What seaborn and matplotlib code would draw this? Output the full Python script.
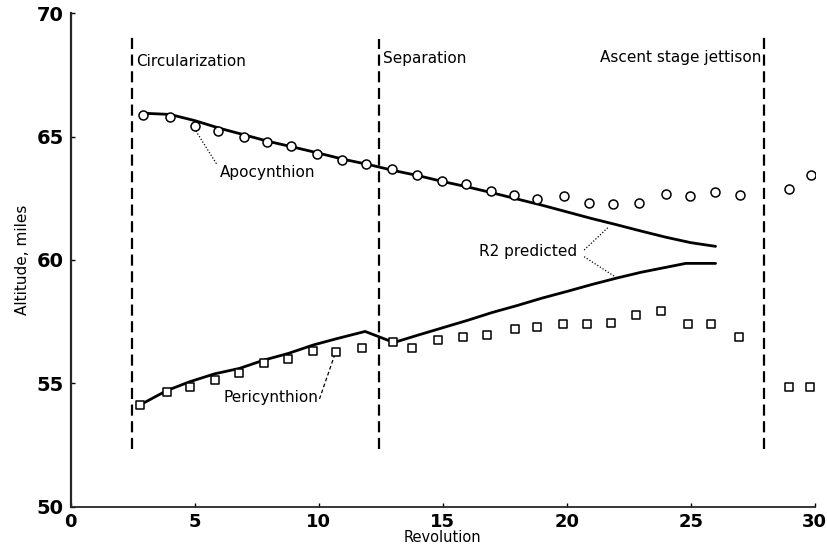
"""Lunar module orbit altitude versus revolution (apocynthion / pericynthion)."""

import numpy as np
import pandas as pd
import matplotlib
matplotlib.use("Agg")
import matplotlib.pyplot as plt
import seaborn as sns

# Observed apocynthion (circles)
apo_rev = [2.9, 4.0, 5.0, 5.95, 7.0, 7.9, 8.9, 9.95, 10.95, 11.9, 12.95, 13.95,
           14.98, 15.95, 16.94, 17.88, 18.8, 19.9, 20.9, 21.87, 22.9, 24.0,
           24.96, 25.98, 27.0, 28.97, 29.85]
apo_alt = [65.88, 65.8, 65.45, 65.23, 65.0, 64.77, 64.6, 64.3, 64.05, 63.88, 63.68, 63.45,
           63.22, 63.06, 62.8, 62.64, 62.48, 62.6, 62.3, 62.27, 62.3, 62.67,
           62.6, 62.77, 62.64, 62.87, 63.45]

# Observed pericynthion (squares)
peri_rev = [2.8, 3.87, 4.8, 5.8, 6.8, 7.8, 8.78, 9.78, 10.7, 11.75, 13.0, 13.77,
            14.8, 15.83, 16.8, 17.9, 18.82, 19.86, 20.83, 21.8, 22.78, 23.8,
            24.89, 25.83, 26.95, 28.97, 29.82]
peri_alt = [54.12, 54.63, 54.84, 55.13, 55.43, 55.83, 55.97, 56.32, 56.28, 56.42, 56.69, 56.44,
            56.75, 56.86, 56.96, 57.2, 57.29, 57.39, 57.39, 57.43, 57.77, 57.94,
            57.39, 57.39, 56.86, 54.84, 54.84]

# R2 predicted curves
pred_apo_rev = [2.9, 4, 5, 6, 7, 8, 9, 10, 11, 12, 13, 14, 15, 16, 17, 18, 19, 20,
                21, 22, 23, 24, 25, 26]
pred_apo_alt = [65.95, 65.9, 65.65, 65.34, 65.07, 64.8, 64.57, 64.33, 64.08, 63.87,
                63.63, 63.42, 63.18, 62.96, 62.72, 62.47, 62.22, 61.95, 61.68, 61.43,
                61.17, 60.92, 60.7, 60.55]
pred_peri_rev = [2.85, 3.87, 4.8, 5.8, 6.8, 7.8, 8.78, 9.78, 10.7, 11.87, 12.49, 13.03,
                 14, 15, 16, 17, 18, 19, 20, 21, 22, 23, 24, 24.8, 26]
pred_peri_alt = [54.15, 54.7, 55.06, 55.38, 55.6, 55.94, 56.21, 56.55, 56.8, 57.1, 56.86,
                 56.65, 56.95, 57.25, 57.55, 57.87, 58.15, 58.45, 58.72, 59.0, 59.26,
                 59.5, 59.7, 59.86, 59.86]

# Events (vertical dashed lines)
event_rev = [2.49, 12.45, 27.96]
event_top = [69.2, 68.95, 69.06]
event_labels = ["Circularization", "Separation", "Ascent stage jettison"]

x_ticks = [0, 5, 10, 15, 20, 25, 30]
y_ticks = [50, 55, 60, 65, 70]

sns.set_theme(style="ticks")
plt.rcParams["font.family"] = ["Liberation Sans Narrow", "DejaVu Sans"]
plt.rcParams.update({"text.color": "black", "axes.labelcolor": "black",
                     "xtick.color": "black", "ytick.color": "black"})

fig = plt.figure(figsize=(8.28, 5.46), dpi=100)
ax = fig.add_axes([0.0854, 0.0723, 0.8986, 0.9033])

pred = pd.concat([
    pd.DataFrame({"rev": pred_apo_rev, "alt": pred_apo_alt, "curve": "apo"}),
    pd.DataFrame({"rev": pred_peri_rev, "alt": pred_peri_alt, "curve": "peri"}),
])
sns.lineplot(data=pred, x="rev", y="alt", units="curve", estimator=None, sort=False,
             color="black", lw=2.0, ax=ax, legend=False)

sns.scatterplot(x=apo_rev, y=apo_alt, marker="o", s=42, facecolor="white",
                edgecolor="black", linewidth=1.1, ax=ax, zorder=3)
sns.scatterplot(x=peri_rev, y=peri_alt, marker="s", s=34, facecolor="white",
                edgecolor="black", linewidth=1.1, ax=ax, zorder=3)

for r, top in zip(event_rev, event_top):
    ax.plot([r, r], [52.35, top], color="black", lw=1.6, dashes=(5, 2.5))

ax.text(2.62, 68.05, event_labels[0], ha="left", va="center", fontsize=11)
ax.text(12.6, 68.18, event_labels[1], ha="left", va="center", fontsize=11)
ax.text(27.83, 68.2, event_labels[2], ha="right", va="center", fontsize=11)

# leader lines and curve labels
ax.plot([4.98, 5.9], [65.34, 63.86], color="black", lw=0.9, ls=(0, (1, 1.5)))
ax.text(6.03, 63.55, "Apocynthion", ha="left", va="center", fontsize=11)

ax.plot([10.03, 10.67], [54.36, 56.23], color="black", lw=0.9, ls=(0, (3, 2)))
ax.text(6.15, 54.41, "Pericynthion", ha="left", va="center", fontsize=11)

ax.plot([20.7, 21.7], [60.4, 61.35], color="black", lw=0.9, ls=(0, (1, 1.5)))
ax.plot([20.7, 22.04], [60.13, 59.26], color="black", lw=0.9, ls=(0, (1, 1.5)))
ax.text(16.45, 60.34, "R2 predicted", ha="left", va="center", fontsize=11)

ax.set_xlim(0, 30)
ax.set_ylim(50, 70)
ax.set_xticks(x_ticks)
ax.set_yticks(y_ticks)
ax.tick_params(axis="both", direction="in", length=3, width=1, pad=5)
ax.tick_params(axis="y", labelsize=14)
ax.tick_params(axis="x", labelsize=13)
for lab in ax.get_xticklabels() + ax.get_yticklabels():
    lab.set_fontweight("bold")
ax.set_xlabel("Revolution", fontsize=10.5, labelpad=-1)
ax.set_ylabel("Altitude, miles", fontsize=11, labelpad=5)
sns.despine(ax=ax)
ax.spines["left"].set_linewidth(1.6)
ax.spines["bottom"].set_linewidth(1.3)

fig.savefig("out.png", dpi=100)
